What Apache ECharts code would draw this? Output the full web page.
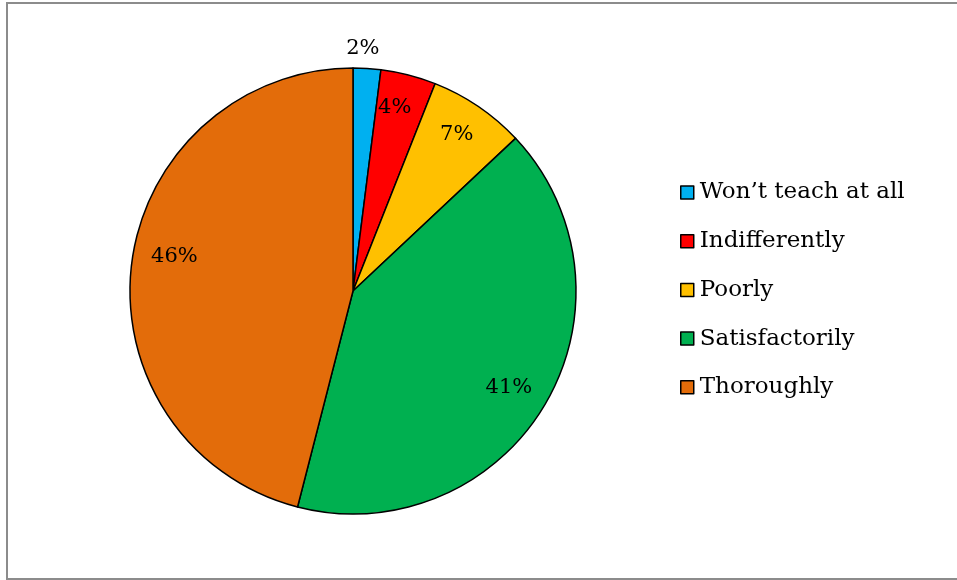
<!DOCTYPE html>
<html>
<head>
<meta charset="utf-8">
<script src="https://cdn.jsdelivr.net/npm/echarts@6/dist/echarts.min.js"></script>
<style>
html,body{margin:0;padding:0;background:#fff;}
#frame{position:absolute;left:6px;top:2px;width:1000px;height:574px;border-left:2px solid #8c8c8c;border-top:2px solid #8c8c8c;border-bottom:2px solid #8c8c8c;}
#chart{position:absolute;left:0;top:0;width:957px;height:580px;}
</style>
</head>
<body>
<div id="frame"></div>
<div id="chart"></div>
<script>
const categories = ["Won\u2019t teach at all", "Indifferently", "Poorly", "Satisfactorily", "Thoroughly"];
const values = [2, 4, 7, 41, 46];
const colors = ["#00B0F0", "#FF0000", "#FFC000", "#00B050", "#E36C0A"];

const FONT = "DejaVu Serif";
const chart = echarts.init(document.getElementById('chart'), null, {renderer: 'canvas'});
const data = categories.map((c, i) => ({name: c, value: values[i], itemStyle: {color: colors[i]}}));
const cx = 353, cy = 291, R = 223;
const labelShift = [[-2, -55], [-5, -1], [-2, -1], [-6, 1], [8, -11]];

chart.setOption({
  animation: false,
  legend: {
    orient: 'vertical',
    left: 675,
    top: 176,
    itemWidth: 13,
    itemHeight: 13,
    itemGap: 25.7,
    icon: 'rect',
    textStyle: {fontFamily: FONT, fontSize: 23, color: '#000', padding: [0, 0, 0, 1]},
    itemStyle: {borderColor: '#000', borderWidth: 1.5},
    data: categories
  },
  series: [
    {
      type: 'pie',
      center: [cx, cy],
      radius: [0, R],
      startAngle: 90,
      clockwise: true,
      label: {show: false},
      labelLine: {show: false},
      itemStyle: {borderColor: '#000', borderWidth: 1.5},
      emphasis: {disabled: true},
      data: data
    },
    {
      type: 'pie',
      center: [cx, cy],
      radius: [R * 0.66, R],
      startAngle: 90,
      clockwise: true,
      silent: true,
      legendHoverLink: false,
      itemStyle: {color: 'rgba(0,0,0,0)', borderWidth: 0},
      label: {
        show: true,
        position: 'inside',
        formatter: p => p.value + '%',
        fontFamily: FONT,
        fontSize: 21,
        color: '#000'
      },
      labelLayout: function (p) {
        const s = labelShift[p.dataIndex];
        return {dx: s[0], dy: s[1]};
      },
      labelLine: {show: false},
      emphasis: {disabled: true},
      tooltip: {show: false},
      data: categories.map((c, i) => ({name: c + ' ', value: values[i]}))
    }
  ]
});
</script>
</body>
</html>
